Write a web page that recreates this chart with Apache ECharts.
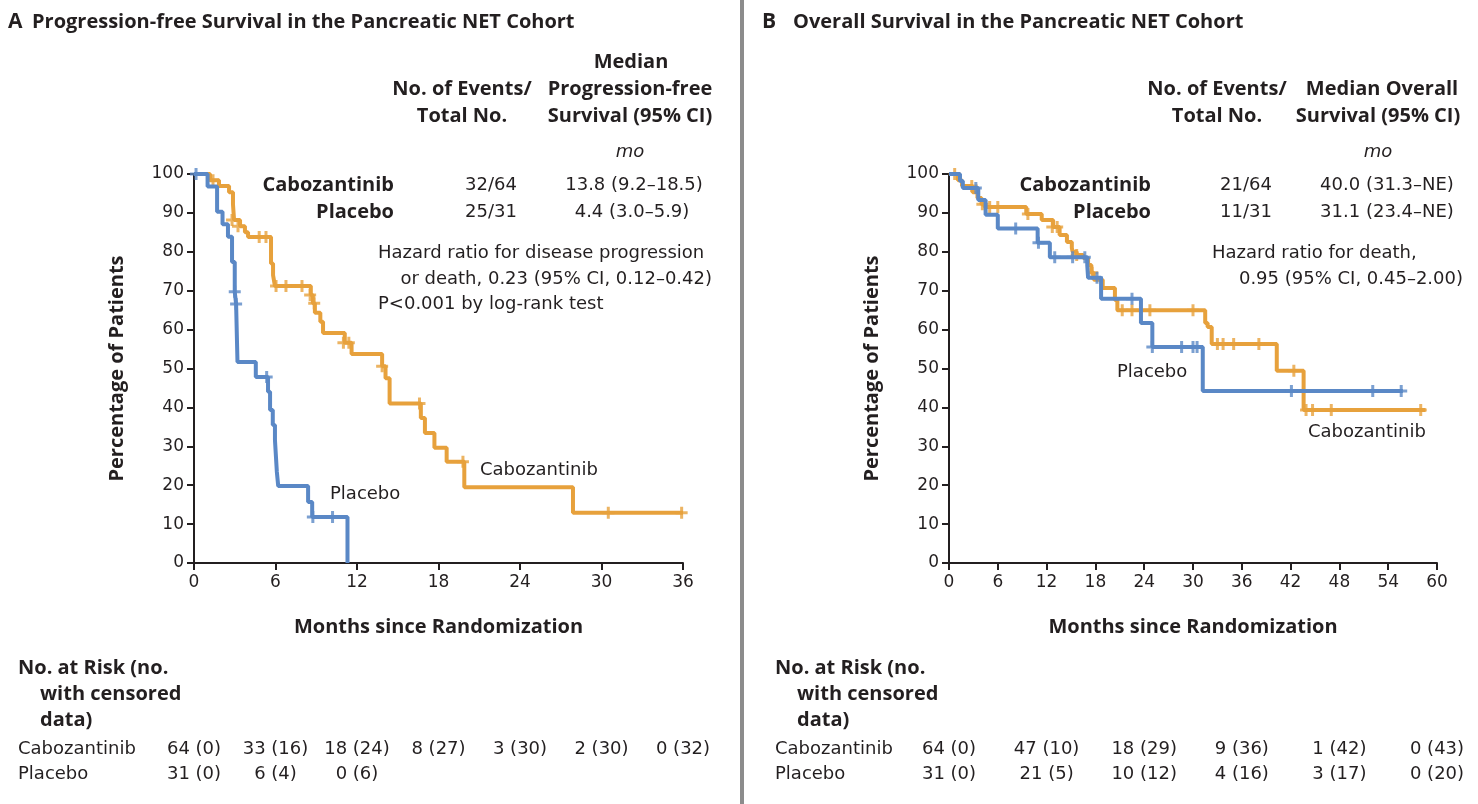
<!DOCTYPE html>
<html><head><meta charset="utf-8">
<script src="https://cdn.jsdelivr.net/npm/echarts@6/dist/echarts.min.js"></script>
<style>html,body{margin:0;padding:0;background:#fff}#c{width:1478px;height:804px}</style>
</head><body><div id="c"></div>
<script>
// ---------- DATA ----------
const pfsCabo = [[0,100],[1.18,98.4],[1.84,96.9],[2.58,95.3],[2.87,92.2],[2.95,88.2],[3.39,86.6],[3.75,85.0],[3.98,83.8],[5.67,77.0],[5.82,74.0],[5.96,71.2],[8.6,68.9],[8.75,66.8],[8.9,64.3],[9.3,62.0],[9.5,59.1],[11.1,56.6],[11.6,53.7],[13.85,50.6],[14.1,47.5],[14.4,41.0],[16.7,37.3],[17.0,33.4],[17.7,29.6],[18.6,26.0],[19.9,19.5],[27.9,12.9],[36.0,12.9]];
const pfsCaboCens = [[1.4,98.4],[2.8,88.2],[3.24,86.6],[4.8,83.8],[5.3,83.8],[6.04,71.2],[6.77,71.2],[7.95,71.2],[8.55,68.9],[8.85,66.8],[11.0,56.6],[11.4,56.6],[13.85,50.6],[16.6,41.0],[19.8,26.0],[30.5,12.9],[35.9,12.9]];
const pfsPbo = [[0,100],[1.0,96.8],[1.7,90.3],[2.1,87.1],[2.5,83.9],[2.8,77.4],[3.0,69.7],[3.1,66.6],[3.2,51.7],[4.55,47.8],[5.45,44.0],[5.6,39.3],[5.8,35.5],[5.96,31.6],[6.1,23.4],[6.2,19.8],[8.4,15.7],[8.7,11.8],[11.3,0]];
const pfsPboCens = [[0.15,100],[3.0,69.7],[3.1,66.6],[5.35,47.8],[8.75,11.8],[10.2,11.8]];

const osCabo = [[0,100],[1.1,98.4],[1.6,96.9],[2.9,95.3],[3.5,93.8],[4.0,92.2],[4.4,91.5],[9.5,89.7],[11.4,88.2],[12.8,86.4],[13.6,84.3],[14.5,82.5],[15.1,81.0],[15.2,80.0],[15.7,79.2],[16.5,78.4],[17.1,76.6],[17.5,74.6],[17.8,72.8],[18.9,70.7],[20.4,67.6],[20.7,65.0],[31.5,61.7],[31.8,60.7],[32.3,56.3],[40.3,49.4],[43.6,39.3],[58.6,39.3]];
const osCaboCens = [[0.7,100],[2.8,96.9],[4.1,92.2],[5.0,91.5],[6.0,91.5],[9.7,89.7],[12.7,86.4],[13.3,86.4],[15.7,79.2],[17.6,74.6],[21.3,65.0],[22.5,65.0],[24.7,65.0],[30.0,65.0],[33.0,56.3],[33.7,56.3],[35.0,56.3],[38.1,56.3],[42.4,49.4],[43.9,39.3],[44.7,39.3],[47.0,39.3],[58.0,39.3]];
const osPbo = [[0,100],[1.35,98.2],[1.7,96.4],[3.6,93.3],[4.5,89.5],[6.0,86.0],[10.9,82.3],[12.4,78.6],[17.0,76.5],[17.1,73.3],[18.7,67.9],[23.6,61.7],[25.0,55.5],[31.2,44.2],[55.8,44.2]];
const osPboCens = [[3.3,96.4],[8.2,86.0],[11.0,82.3],[13.0,78.6],[15.2,78.6],[16.7,78.6],[18.2,73.3],[22.5,67.9],[25.0,55.5],[28.6,55.5],[30.0,55.5],[30.5,55.5],[42.1,44.2],[52.1,44.2],[55.6,44.2]];

const pfsRiskTimes = [0,6,12,18,24,30,36];
const pfsRiskCabo = ['64 (0)','33 (16)','18 (24)','8 (27)','3 (30)','2 (30)','0 (32)'];
const pfsRiskPbo = ['31 (0)','6 (4)','0 (6)'];
const osRiskTimes = [0,12,24,36,48,60];
const osRiskCabo = ['64 (0)','47 (10)','18 (29)','9 (36)','1 (42)','0 (43)'];
const osRiskPbo = ['31 (0)','21 (5)','10 (12)','4 (16)','3 (17)','0 (20)'];

// ---------- STYLE ----------
const ORANGE = '#E7A13C', BLUE = '#5A88C6', INK = '#231f20';
const REG = '"DejaVu Sans", sans-serif';
const BOLD = '"Open Sans", sans-serif';
const BSIZE = 20, RSIZE = 18;
const PLUS = 'path://M4.5,0h3v4.5h4.5v3h-4.5v4.5h-3v-4.5h-4.5v-3h4.5z';

const chart = echarts.init(document.getElementById('c'), null, {renderer:'canvas'});

function yAx(gi){ return {gridIndex:gi, type:'value', min:0, max:100, interval:10,
  name:'Percentage of Patients', nameLocation:'middle', nameGap:67,
  nameTextStyle:{fontFamily:BOLD, fontWeight:'bold', fontSize:BSIZE, color:INK},
  axisLine:{show:true, lineStyle:{color:INK, width:2}}, axisTick:{show:true, length:7, lineStyle:{color:INK,width:2}},
  axisLabel:{fontFamily:REG, fontSize:17, color:INK, margin:10}, splitLine:{show:false}}; }
function xAx(gi,max){ return {gridIndex:gi, type:'value', min:0, max:max, interval:6,
  name:'Months since Randomization', nameLocation:'middle', nameGap:54,
  nameTextStyle:{fontFamily:BOLD, fontWeight:'bold', fontSize:BSIZE, color:INK},
  axisLine:{show:true, onZero:false, lineStyle:{color:INK, width:2}}, axisTick:{show:true, length:7, lineStyle:{color:INK,width:2}},
  axisLabel:{fontFamily:REG, fontSize:17, color:INK, margin:11}, splitLine:{show:false}}; }
function km(gi,data,color,z){ return {type:'line', xAxisIndex:gi, yAxisIndex:gi, step:'end', data:data, showSymbol:false, symbol:'none', z:z,
  lineStyle:{color:color, width:4}, animation:false}; }
function cens(gi,data,color,z){ return {type:'scatter', xAxisIndex:gi, yAxisIndex:gi, data:data, symbol:PLUS, symbolSize:12, z:z,
  itemStyle:{color:color}, animation:false}; }

chart.setOption({
  animation:false,
  grid:[{left:194, right:795, top:174, bottom:241},{left:949, right:41, top:174, bottom:241}],
  xAxis:[xAx(0,36), xAx(1,60)],
  yAxis:[yAx(0), yAx(1)],
  series:[km(0,pfsCabo,ORANGE,2), cens(0,pfsCaboCens,ORANGE,3), km(0,pfsPbo,BLUE,4), cens(0,pfsPboCens,BLUE,5),
          km(1,osCabo,ORANGE,2), cens(1,osCaboCens,ORANGE,3), km(1,osPbo,BLUE,4), cens(1,osPboCens,BLUE,5)]
});

function T(text,x,y,o){ o=o||{}; return {type:'text', x:x, y:y, silent:true, style:{text:text,
  fontFamily:o.b?BOLD:REG, fontWeight:o.b?'bold':'normal', fontStyle:o.i?'italic':'normal',
  fontSize:o.s||(o.b?BSIZE:RSIZE), fill:INK, textAlign:o.a||'left', textVerticalAlign:'middle'}}; }

const g = [];
g.push({type:'rect', shape:{x:740, y:0, width:4, height:804}, style:{fill:'#8c8c8c'}, silent:true});
// Panel A headers
g.push(T('A',8,22,{b:1,s:21}), T('Progression-free Survival in the Pancreatic NET Cohort',32,22,{b:1}));
g.push(T('Median',631,62,{b:1,a:'center'}), T('No. of Events/',462,89,{b:1,a:'center'}), T('Progression-free',630,89,{b:1,a:'center'}));
g.push(T('Total No.',462,116,{b:1,a:'center'}), T('Survival (95% CI)',630,116,{b:1,a:'center'}), T('mo',630,152,{i:1,a:'center'}));
g.push(T('Cabozantinib',394,185,{b:1,a:'right'}), T('Placebo',394,212,{b:1,a:'right'}));
g.push(T('32/64',491,185,{a:'center'}), T('25/31',491,212,{a:'center'}), T('13.8 (9.2–18.5)',634,185,{a:'center'}), T('4.4 (3.0–5.9)',632,212,{a:'center'}));
g.push(T('Hazard ratio for disease progression',378,253), T('or death, 0.23 (95% CI, 0.12–0.42)',712,279,{a:'right'}), T('P<0.001 by log-rank test',378,304));
g.push(T('Cabozantinib',480,470), T('Placebo',330,494));
// Panel B headers
g.push(T('B',762,22,{b:1,s:21}), T('Overall Survival in the Pancreatic NET Cohort',793,22,{b:1}));
g.push(T('No. of Events/',1217,89,{b:1,a:'center'}), T('Median Overall',1382,89,{b:1,a:'center'}));
g.push(T('Total No.',1217,116,{b:1,a:'center'}), T('Survival (95% CI)',1378,116,{b:1,a:'center'}), T('mo',1378,152,{i:1,a:'center'}));
g.push(T('Cabozantinib',1151,185,{b:1,a:'right'}), T('Placebo',1151,212,{b:1,a:'right'}));
g.push(T('21/64',1246,185,{a:'center'}), T('11/31',1246,212,{a:'center'}), T('40.0 (31.3–NE)',1387,185,{a:'center'}), T('31.1 (23.4–NE)',1387,212,{a:'center'}));
g.push(T('Hazard ratio for death,',1212,253), T('0.95 (95% CI, 0.45–2.00)',1463,279,{a:'right'}));
g.push(T('Placebo',1117,372), T('Cabozantinib',1308,432));
// Risk tables
[[18,0,pfsRiskTimes,pfsRiskCabo,pfsRiskPbo],[775,1,osRiskTimes,osRiskCabo,osRiskPbo]].forEach(function(p){
  const x0=p[0], gi=p[1];
  g.push(T('No. at Risk (no.',x0,668,{b:1}), T('with censored',x0+22,694,{b:1}), T('data)',x0+22,720,{b:1}));
  g.push(T('Cabozantinib',x0,749), T('Placebo',x0,774));
  p[2].forEach(function(t,i){
    const px = chart.convertToPixel({gridIndex:gi},[t,0])[0];
    if(p[3][i]!==undefined) g.push(T(p[3][i],px,749,{a:'center'}));
    if(p[4][i]!==undefined) g.push(T(p[4][i],px,774,{a:'center'}));
  });
});
chart.setOption({graphic:g});
</script></body></html>
